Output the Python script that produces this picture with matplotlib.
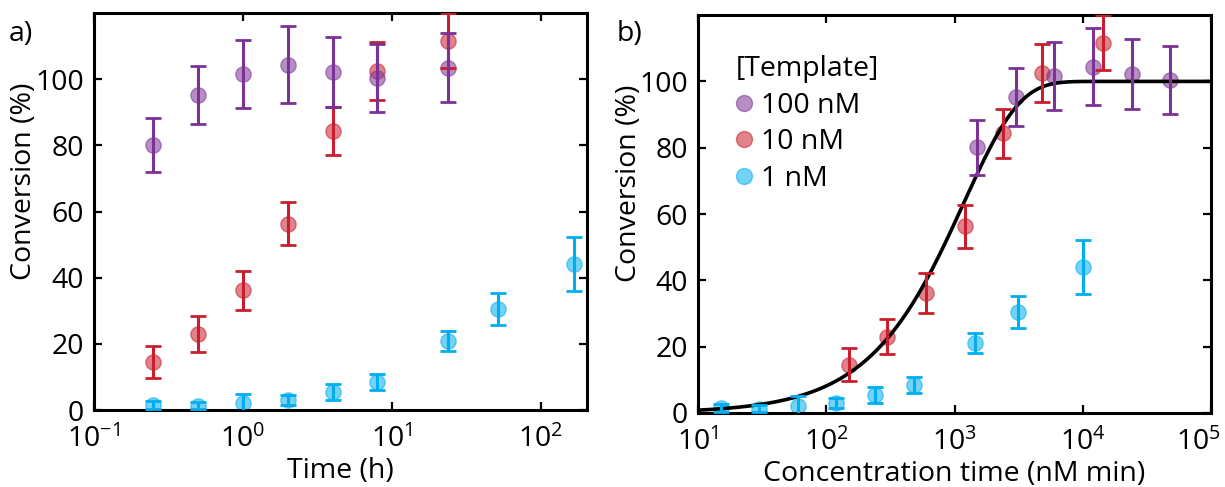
import numpy as np
import matplotlib.pyplot as plt
from matplotlib.lines import Line2D
from matplotlib.ticker import FixedLocator, NullLocator

plt.rcParams['font.family'] = ['Open Sans', 'DejaVu Sans']
plt.rcParams['mathtext.fontset'] = 'custom'
plt.rcParams['mathtext.rm'] = 'Open Sans'
plt.rcParams['mathtext.it'] = 'Open Sans'
plt.rcParams['font.size'] = 20.5

# Sampling times (h) and template concentrations (nM)
time_hi = [0.25, 0.5, 1, 2, 4, 8, 24]
time_lo = [0.25, 0.5, 1, 2, 4, 8, 24, 52, 168]
conc_100, conc_10, conc_1 = 100, 10, 1

# Conversion (%) and error for each template concentration
conv_100 = [80.1, 95.2, 101.6, 104.4, 102.3, 100.5, 103.5]
err_100 = [8.2, 8.7, 10.3, 11.6, 10.6, 10.3, 10.5]
conv_10 = [14.6, 23.0, 36.2, 56.3, 84.3, 102.5, 111.6]
err_10 = [4.9, 5.3, 5.9, 6.5, 7.3, 8.8, 8.3]
conv_1 = [1.5, 1.3, 2.0, 3.0, 5.4, 8.5, 21.0, 30.5, 44.1]
err_1 = [1.1, 1.0, 3.0, 1.6, 2.4, 2.4, 3.0, 4.8, 8.2]

# Tick positions of the two log axes
ticks_a = [0.1, 1, 10, 100]
ticks_b = [10, 100, 1000, 10000, 100000]

# First-order fit to conversion vs concentration*time (1/(nM min))
k_fit = 8.5e-4

purple = '#7B3294'
red = '#C81E2D'
blue = '#00AEEF'

series = [
    (conc_1, time_lo, conv_1, err_1, blue),
    (conc_10, time_hi, conv_10, err_10, red),
    (conc_100, time_hi, conv_100, err_100, purple),
]

fig = plt.figure(figsize=(12.25, 4.87), dpi=100)
ax_a = fig.add_axes([0.0767, 0.158, 0.4024, 0.815])
ax_b = fig.add_axes([0.5698, 0.152, 0.4188, 0.817])


def draw_points(ax, x, y, err, color):
    ax.plot(x, y, 'o', ms=11, color=color, alpha=0.55, mew=1, zorder=2)
    ax.errorbar(x, y, yerr=err, fmt='none', ecolor=color, elinewidth=2.2,
                capsize=6, capthick=2, zorder=3)


def exp_label(v):
    return r'$\mathdefault{10^{%d}}$' % round(np.log10(v))


for conc, t, y, err, color in series:
    draw_points(ax_a, t, y, err, color)
    ct = np.array(t) * 60 * conc
    draw_points(ax_b, ct, y, err, color)

# Fitted curve on panel b
x_fit = np.logspace(1, 5, 400)
ax_b.plot(x_fit, 100 * (1 - np.exp(-k_fit * x_fit)), color='black', lw=2.6,
          zorder=2.5)

for ax, ticks in ((ax_a, ticks_a), (ax_b, ticks_b)):
    ax.set_xscale('log')
    ax.set_ylim(0, 120)
    ax.set_yticks([0, 20, 40, 60, 80, 100])
    ax.xaxis.set_major_locator(FixedLocator(ticks))
    ax.xaxis.set_minor_locator(NullLocator())
    ax.tick_params(which='major', direction='in', top=True, right=True,
                   length=6, width=1.6)
    ax.tick_params(axis='x', pad=11)
    ax.tick_params(axis='y', pad=7)
    for sp in ax.spines.values():
        sp.set_linewidth(2.2)
    ax.set_ylabel('Conversion (%)')

ax_a.set_xlim(0.1, 204)
ax_a.set_xticklabels([exp_label(v) for v in ticks_a])
ax_a.set_xlabel('Time (h)', labelpad=2)
ax_a.yaxis.set_label_coords(-0.113, 0.577)

# The 10^5 label sits at the figure edge, so it is placed by hand
ax_b.set_xlim(10, 1e5)
ax_b.set_xticklabels([exp_label(v) for v in ticks_b[:-1]] + [''])
ax_b.annotate(exp_label(ticks_b[-1]), xy=(1, 0), xycoords='axes fraction',
              xytext=(-9, -11), textcoords='offset points',
              ha='center', va='top')
ax_b.set_xlabel('Concentration time (nM min)', labelpad=2)
ax_b.yaxis.set_label_coords(-0.107, 0.578)

fig.text(0.007, 0.915, 'a)')
fig.text(0.503, 0.915, 'b)')

handles = [Line2D([], [], ls='none', marker='o', ms=11.5, color=c, alpha=0.55)
           for c in (purple, red, blue)]
ax_b.legend(handles, ['100 nM', '10 nM', '1 nM'], title='[Template]',
            title_fontsize=20.5, loc='upper left',
            bbox_to_anchor=(0.045, 0.935), frameon=False, alignment='left',
            handlelength=0.6, handletextpad=0.3, labelspacing=0.3,
            borderpad=0)

fig.savefig('out.png', dpi=100)
